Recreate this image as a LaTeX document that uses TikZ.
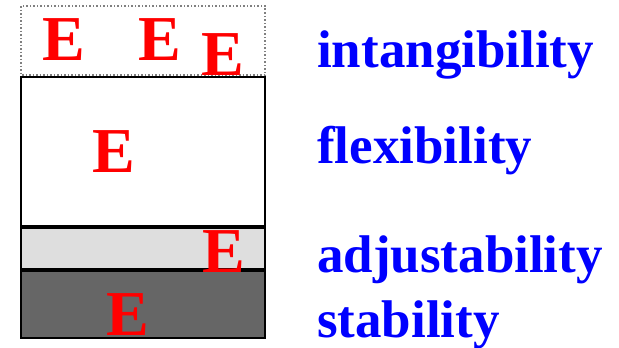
\documentclass[tikz,border=0pt]{standalone}
\usepackage{fontspec}
\setmainfont{Liberation Serif}
\definecolor{layerred}{RGB}{255,0,0}
\definecolor{layerblue}{RGB}{0,0,255}
\usetikzlibrary{positioning}

\tikzset{
    letterE/.style={text=layerred, font=\fontsize{64}{64}\selectfont\bfseries, inner sep=0pt},
    layerlabel/.style={text=layerblue, font=\fontsize{53}{53}\selectfont\bfseries, inner sep=0pt, anchor=base west},
    layerbox/.style={draw=black, line width=2pt}
}

\begin{document}
\begin{tikzpicture}[x=1pt,y=-1pt]
    \useasboundingbox (0,0) rectangle (619,348);

    % Layers, top to bottom
    \draw[draw=gray, dotted, line width=1.5pt, fill=white] (21,6) rectangle (265,75);
    \draw[layerbox, fill=white] (21,77) rectangle (265,226);
    \draw[layerbox, fill=black!13] (21,228) rectangle (265,269);
    \draw[layerbox, fill=black!60] (21,271) rectangle (265,338);

    % E markers
    \foreach \name/\x/\y in {
        eA/64/40,
        eB/160/40,
        eC/223/55,
        eFlex/114/152,
        eAdj/224/252,
        eStab/128/315} {
        \node[letterE] (\name) at (\x,\y) {E};
    }

    % Layer names
    \foreach \name/\y/\txt in {
        intang/67/intangibility,
        flex/163/flexibility,
        adjust/272/adjustability,
        stab/337/stability} {
        \node[layerlabel] (\name) at (317,\y) {\txt};
    }
\end{tikzpicture}
\end{document}
